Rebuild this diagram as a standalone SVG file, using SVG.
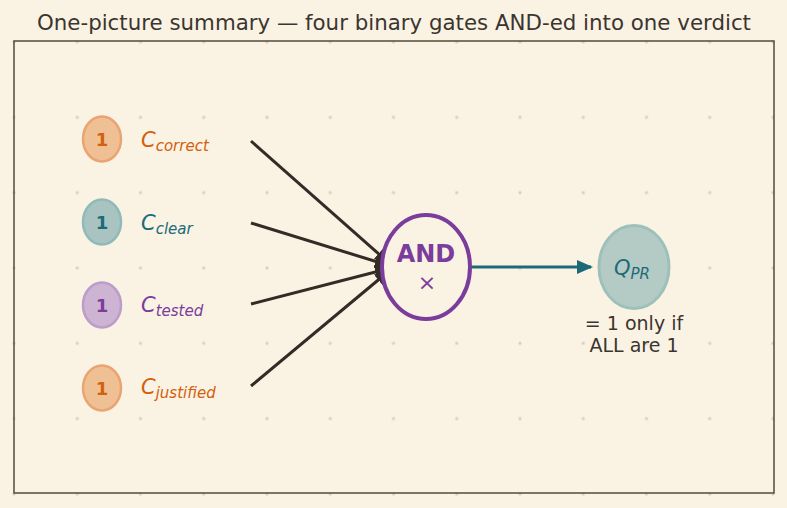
<svg xmlns="http://www.w3.org/2000/svg" width="787" height="508" viewBox="0 0 787 508">
<defs>
<style>
.t{font-family:"DejaVu Sans",sans-serif;}
.dot{fill:#d9d2c3;}
.lbl{font-family:"DejaVu Sans",sans-serif;font-style:italic;font-size:21px;}
.sub{font-size:15px;}
.one{font-family:"DejaVu Sans",sans-serif;font-weight:bold;font-size:18px;text-anchor:middle;}
.or{fill:#d3600c;}
.te{fill:#1c6a78;}
.pu{fill:#7a3d9c;}
.in{stroke:#352b26;stroke-width:3;fill:none;}
</style>
<marker id="ah" markerWidth="16" markerHeight="14" refX="14" refY="7" orient="auto" markerUnits="userSpaceOnUse">
<path d="M0,0 L16,7 L0,14 Z" fill="#352b26"/>
</marker>
<marker id="ah2" markerWidth="16" markerHeight="14" refX="14" refY="7" orient="auto" markerUnits="userSpaceOnUse">
<path d="M0,0 L16,7 L0,14 Z" fill="#1c6a78"/>
</marker>
<pattern id="grid" x="14" y="42" width="63.25" height="75.33" patternUnits="userSpaceOnUse">
<circle cx="0" cy="0" r="1.7" class="dot"/>
<circle cx="63.25" cy="0" r="1.7" class="dot"/>
<circle cx="0" cy="75.33" r="1.7" class="dot"/>
<circle cx="63.25" cy="75.33" r="1.7" class="dot"/>
</pattern>
</defs>
<rect width="787" height="508" fill="#faf3e4"/>
<rect x="12" y="40" width="764" height="457" fill="url(#grid)"/>
<rect x="14" y="41" width="760" height="452" fill="none" stroke="#5e5444" stroke-width="1.6"/>
<text class="t" x="394" y="30" font-size="20.5" text-anchor="middle" textLength="714" lengthAdjust="spacingAndGlyphs" fill="#3b3530">One-picture summary — four binary gates AND-ed into one verdict</text>

<g id="connectors">
<line class="in" x1="251" y1="141" x2="389" y2="263" marker-end="url(#ah)"/>
<line class="in" x1="251" y1="223" x2="389" y2="265.5" marker-end="url(#ah)"/>
<line class="in" x1="251" y1="304" x2="389" y2="268.5" marker-end="url(#ah)"/>
<line class="in" x1="251" y1="386" x2="389" y2="271" marker-end="url(#ah)"/>
<line x1="471" y1="267" x2="591" y2="267" stroke="#1c6a78" stroke-width="3" marker-end="url(#ah2)"/>
</g>

<g id="in-correct">
<ellipse cx="102" cy="139" rx="19" ry="22.5" fill="#f0c095" stroke="#e9a472" stroke-width="2.5"/>
<text class="one or" x="102" y="145.5">1</text>
<text class="lbl or" x="141" y="147">C<tspan class="sub" dy="4">correct</tspan></text>
</g>
<g id="in-clear">
<ellipse cx="102" cy="222" rx="19" ry="22.5" fill="#a9c4c0" stroke="#8fbab9" stroke-width="2.5"/>
<text class="one te" x="102" y="228.5">1</text>
<text class="lbl te" x="141" y="230">C<tspan class="sub" dy="4">clear</tspan></text>
</g>
<g id="in-tested">
<ellipse cx="102" cy="305" rx="19" ry="22.5" fill="#cdb4d2" stroke="#bb9ccb" stroke-width="2.5"/>
<text class="one pu" x="102" y="311.5">1</text>
<text class="lbl pu" x="141" y="312">C<tspan class="sub" dy="4">tested</tspan></text>
</g>
<g id="in-justified">
<ellipse cx="102" cy="388" rx="19" ry="22.5" fill="#f0c095" stroke="#e9a472" stroke-width="2.5"/>
<text class="one or" x="102" y="394.5">1</text>
<text class="lbl or" x="141" y="394">C<tspan class="sub" dy="4">justified</tspan></text>
</g>

<g id="and">
<ellipse cx="426" cy="267" rx="44" ry="52" fill="#faf3e4" stroke="#7a3d9c" stroke-width="4"/>
<text class="t pu" x="426" y="262" font-size="24" font-weight="bold" text-anchor="middle">AND</text>
<text class="t pu" x="427" y="290" font-size="22" text-anchor="middle">×</text>
</g>

<g id="qpr">
<ellipse cx="634" cy="267" rx="35" ry="41.5" fill="#b4cbc5" stroke="#9dc0bb" stroke-width="3"/>
<text class="lbl te" x="614" y="275" font-size="23">Q<tspan class="sub" dy="4">PR</tspan></text>
<text class="t" x="634" y="330" font-size="19" text-anchor="middle" fill="#3b3530">= 1 only if</text>
<text class="t" x="634" y="352" font-size="19" text-anchor="middle" fill="#3b3530">ALL are 1</text>
</g>
</svg>
